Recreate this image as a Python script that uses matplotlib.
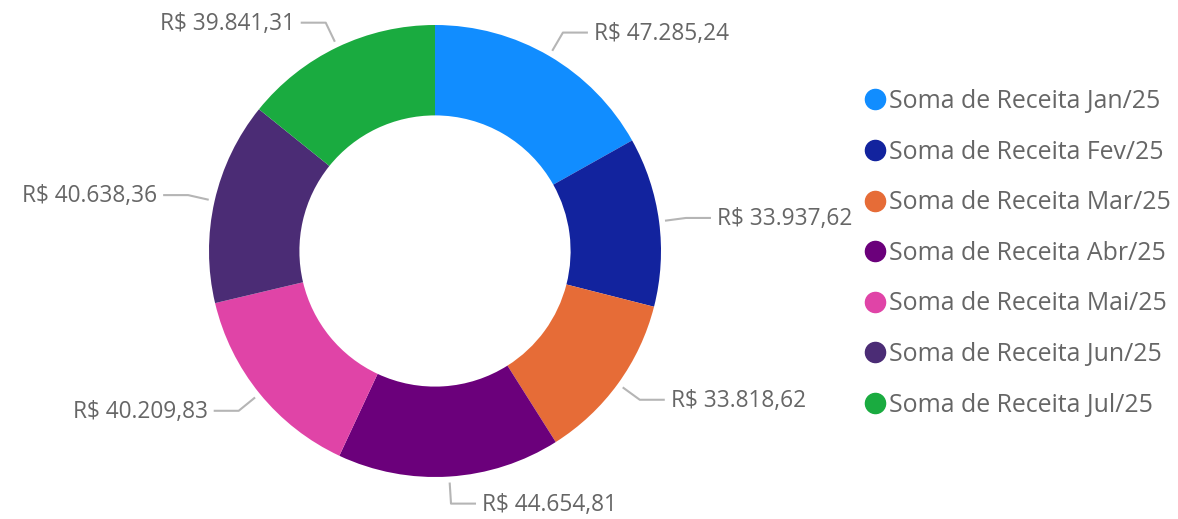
import numpy as np
import matplotlib.pyplot as plt
from matplotlib.lines import Line2D

plt.rcParams['font.family'] = ['Open Sans', 'DejaVu Sans']

# dados
meses = ['Jan/25', 'Fev/25', 'Mar/25', 'Abr/25', 'Mai/25', 'Jun/25', 'Jul/25']
receitas = [47285.24, 33937.62, 33818.62, 44654.81, 40209.83, 40638.36, 39841.31]
cores = ['#118DFF', '#12239E', '#E66C37', '#6B007B', '#E044A7', '#4B2C75', '#1AAB40']

TXT = '#666666'
LINHA = '#B5B5B5'


def brl(v):
    s = f"{v:,.2f}".replace(',', 'X').replace('.', ',').replace('X', '.')
    return f"R$ {s}"


fig = plt.figure(figsize=(11.78, 5.19), dpi=100)
ax = fig.add_axes([0, 0, 1, 1])

cx, cy = 435, 268
R = 226
wedges, _ = ax.pie(receitas, colors=cores, startangle=90, counterclock=False,
                   radius=R, center=(cx, cy),
                   wedgeprops=dict(width=R * 0.4, linewidth=0))

# pie mexe nos limites, entao define depois
ax.set_xlim(0, 1178)
ax.set_ylim(0, 519)
ax.set_aspect('equal')
ax.axis('off')

# rótulos com linhas guia
for w, v in zip(wedges, receitas):
    ang = np.deg2rad((w.theta1 + w.theta2) / 2)
    dx, dy = np.cos(ang), np.sin(ang)
    x0, y0 = cx + (R + 6) * dx, cy + (R + 6) * dy
    x1, y1 = cx + R * 1.12 * dx, cy + R * 1.12 * dy
    lado = 1 if dx >= 0 else -1
    x2 = x1 + 25 * lado
    ax.plot([x0, x1, x2], [y0, y1, y1], color=LINHA, lw=1.5, solid_capstyle='butt')
    ax.text(x2 + 6 * lado, y1 - 1, brl(v), ha='left' if lado > 0 else 'right',
            va='center', fontsize=16.3, color=TXT)

handles = [Line2D([], [], marker='o', linestyle='none', markersize=14.5,
                  markerfacecolor=c, markeredgecolor=c) for c in cores]
leg = ax.legend(handles, [f"Soma de Receita {m}" for m in meses],
                loc='upper left', bbox_to_anchor=(865 / 1178, 1 - 89 / 519),
                frameon=False, fontsize=17.9, labelspacing=1.03,
                handlelength=0.82, handletextpad=0.15, borderpad=0, borderaxespad=0)
for t in leg.get_texts():
    t.set_color(TXT)

fig.savefig('out.png', dpi=100, facecolor='white')
